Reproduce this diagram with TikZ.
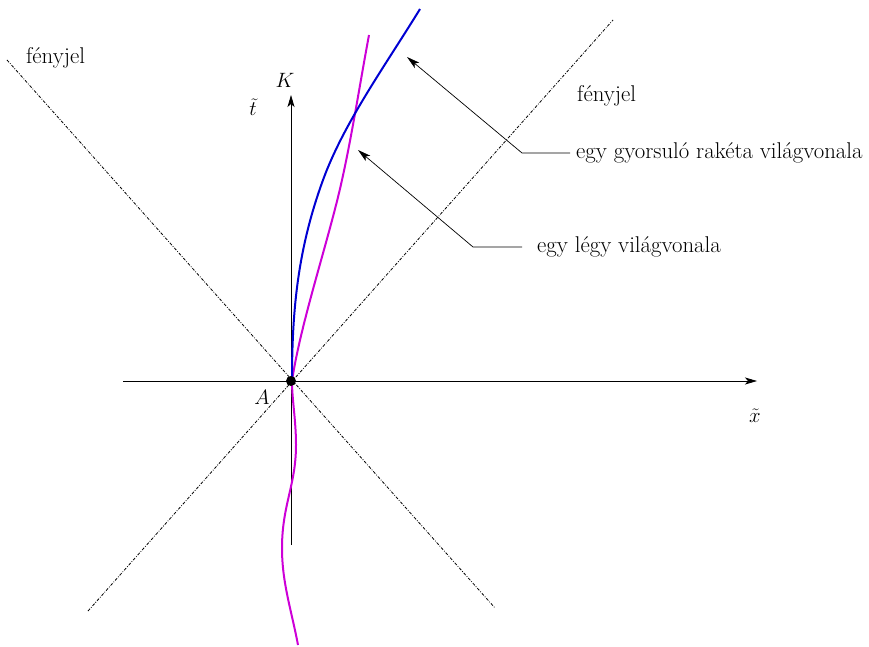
\documentclass[tikz,border=0pt]{standalone}
\usetikzlibrary{arrows.meta}
\definecolor{rocketblue}{RGB}{0,0,210}
\definecolor{flymag}{RGB}{205,0,215}
\begin{document}
\begin{tikzpicture}[x=1pt,y=-1pt,
  lbl/.style={inner sep=0pt,font=\fontsize{22.8}{26}\selectfont},
  axis/.style={line width=0.8pt,-{Stealth[length=12pt,width=7pt,inset=3pt]}},
  light/.style={line width=0.8pt,dash pattern=on 3pt off 1.5pt on 0.8pt off 1.5pt},
  pointer/.style={line width=0.7pt,-{Stealth[length=13pt,width=7pt,inset=3pt]}},
  worldline/.style={line width=2pt}]
\useasboundingbox (0,0) rectangle (869,647);
% light signals
\coordinate (L1a) at (7,60);
\coordinate (L1b) at (495,608);
\coordinate (L2a) at (88,611);
\coordinate (L2b) at (613,20);
\draw[light] (L1a) -- (L1b);
\draw[light] (L2a) -- (L2b);
% axes
\coordinate (O) at (291,381);
\coordinate (xl) at (123,381);
\coordinate (xr) at (757,381);
\coordinate (tb) at (291,545);
\coordinate (tt) at (291,95);
\draw[axis] (xl) -- (xr);
\draw[axis] (tb) -- (tt);
% fly world line
\coordinate (M0) at (298,645);
\coordinate (M1) at (282,548);
\coordinate (M2) at (296,445);
\coordinate (M3) at (292,381);
\coordinate (M4) at (342,180);
\coordinate (M5) at (369,35);
\draw[worldline,flymag] (M0) .. controls (291.4,610) and (282,583) .. (M1)
  .. controls (282,505) and (296,485) .. (M2)
  .. controls (296,420) and (292,400) .. (M3)
  .. controls (301,321) and (328.8,240) .. (M4)
  .. controls (352.6,132) and (360,83) .. (M5);
% rocket world line
\coordinate (R0) at (292,381);
\coordinate (R1) at (323,180);
\coordinate (R2) at (420,9);
\draw[worldline,rocketblue] (R0) .. controls (292,311) and (297.5,250) .. (R1)
  .. controls (343.8,123) and (385,66) .. (R2);
% event A
\fill (O) circle (5);
% labels
\node[lbl,anchor=base west] (f1) at (26,64) {fényjel};
\node[lbl,anchor=base west] (f2) at (577,102) {fényjel};
\node[lbl,anchor=base] (K) at (285,88) {$K$};
\node[lbl,anchor=base] (tl) at (253,116) {$\tilde t$};
\node[lbl,anchor=base] (A) at (262,404) {$A$};
\node[lbl,anchor=base] (xlab) at (755,422) {$\tilde x$};
\node[lbl,anchor=base west] (r) at (576,159) {egy gyorsuló rakéta világvonala};
\node[lbl,anchor=base west] (fl) at (537,252) {egy légy világvonala};
% pointers
\coordinate (r1) at (570,153);
\coordinate (r2) at (522,153);
\coordinate (r3) at (407,57);
\coordinate (l1) at (522,247);
\coordinate (l2) at (473,247);
\coordinate (l3) at (358,150);
\draw[pointer] (r1) -- (r2) -- (r3);
\draw[pointer] (l1) -- (l2) -- (l3);
\end{tikzpicture}
\end{document}
